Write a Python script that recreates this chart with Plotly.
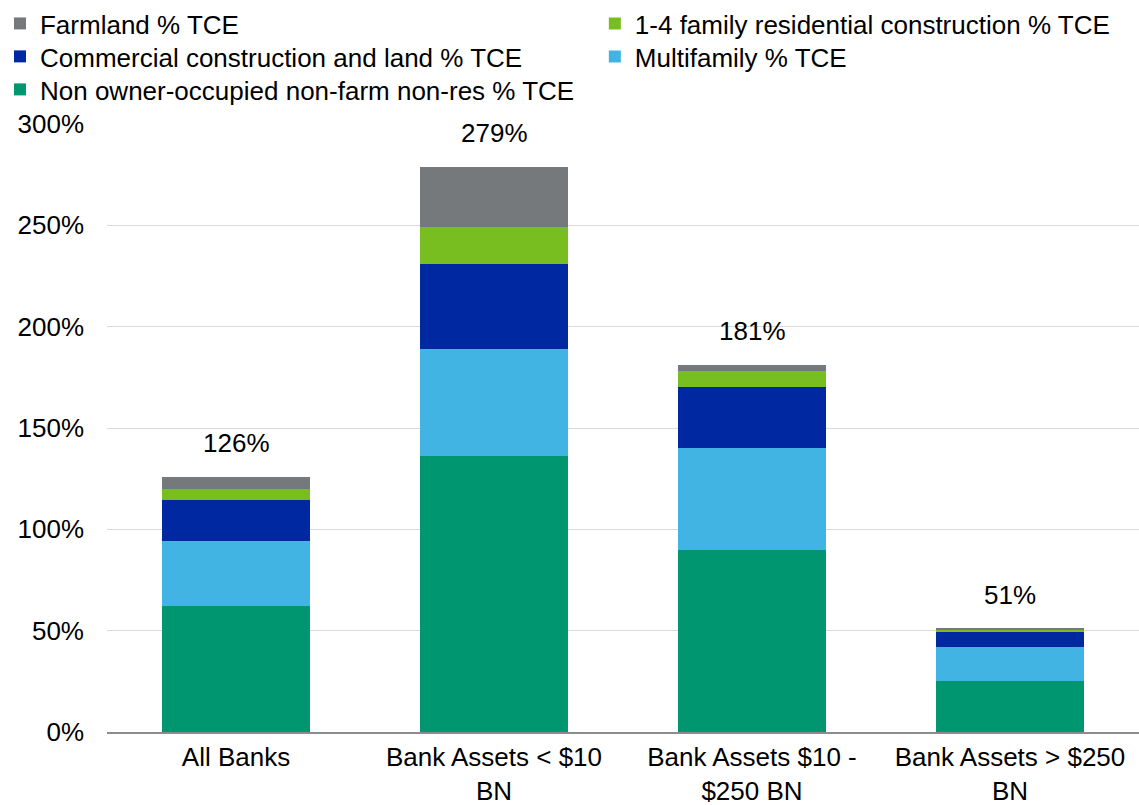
import plotly.graph_objects as go

# Categories (bank size groups)
categories = ["All Banks", "Bank Assets < $10<br>BN", "Bank Assets $10 -<br>$250 BN", "Bank Assets > $250<br>BN"]

# CRE exposure components, % of tangible common equity
non_owner_occupied = [62.3, 136.0, 90.0, 25.4]
multifamily = [32.1, 53.0, 50.3, 16.3]
commercial_construction = [19.9, 42.0, 30.0, 7.7]
family_1_4_construction = [5.6, 18.0, 7.9, 1.0]
farmland = [6.1, 30.0, 2.8, 0.6]

y_ticks = [0, 50, 100, 150, 200, 250, 300]
y_tick_labels = ["0%", "50%", "100%", "150%", "200%", "250%", "300%"]

# (name, values, colour, legend slot) stacked bottom to top
series = [
    ("Non owner-occupied non-farm non-res % TCE", non_owner_occupied, "#00966f", "legend5"),
    ("Multifamily % TCE", multifamily, "#42b4e4", "legend4"),
    ("Commercial construction and land % TCE", commercial_construction, "#0029a1", "legend3"),
    ("1-4 family residential construction % TCE", family_1_4_construction, "#78be21", "legend2"),
    ("Farmland % TCE", farmland, "#76797c", "legend"),
]

FONT = "Liberation Sans, Arial, sans-serif"

fig = go.Figure()
for name, vals, color, leg in series:
    fig.add_trace(go.Bar(
        x=categories, y=vals, name=name, legend=leg,
        marker=dict(color=color, line=dict(width=0)),
        hoverinfo="skip",
    ))

totals = [sum(v) for v in zip(*[s[1] for s in series])]
for cat, tot in zip(categories, totals):
    fig.add_annotation(
        x=cat, y=tot, text=f"{tot:.0f}%", showarrow=False,
        yanchor="bottom", yshift=17,
        font=dict(family=FONT, size=26, color="#000000"),
    )

# Legend laid out as a two-column grid, read row by row
col_x = [-0.1037, 0.4727]
row_y = [1.2039, 1.1497, 1.0954]
legend_slots = {
    "legend": (col_x[0], row_y[0]),
    "legend2": (col_x[1], row_y[0]),
    "legend3": (col_x[0], row_y[1]),
    "legend4": (col_x[1], row_y[1]),
    "legend5": (col_x[0], row_y[2]),
}
legend_layout = {}
for key, (lx, ly) in legend_slots.items():
    legend_layout[key] = dict(
        orientation="v", x=lx, xanchor="left", y=ly, yanchor="top",
        font=dict(family=FONT, size=26, color="#000000"),
        itemwidth=30, bgcolor="rgba(0,0,0,0)", borderwidth=0,
    )

fig.update_layout(
    barmode="stack",
    bargap=0.426,
    width=1139, height=805,
    margin=dict(l=107, r=0, t=124, b=73, autoexpand=False),
    paper_bgcolor="white", plot_bgcolor="white",
    font=dict(family=FONT, size=26, color="#000000"),
    showlegend=True,
    xaxis=dict(
        showgrid=False, showline=True, linecolor="#8c8c8c", linewidth=1.5,
        ticks="", tickfont=dict(family=FONT, size=26, color="#000000"),
        ticklabelstandoff=1,
    ),
    yaxis=dict(
        range=[0, 300], tickvals=y_ticks, ticktext=y_tick_labels,
        showgrid=True, gridcolor="#d9d9d9", gridwidth=1,
        zeroline=False, showline=False, ticks="",
        tickfont=dict(family=FONT, size=26, color="#000000"),
        ticklabelstandoff=22,
    ),
    **legend_layout,
)

fig.write_html("out.html")
